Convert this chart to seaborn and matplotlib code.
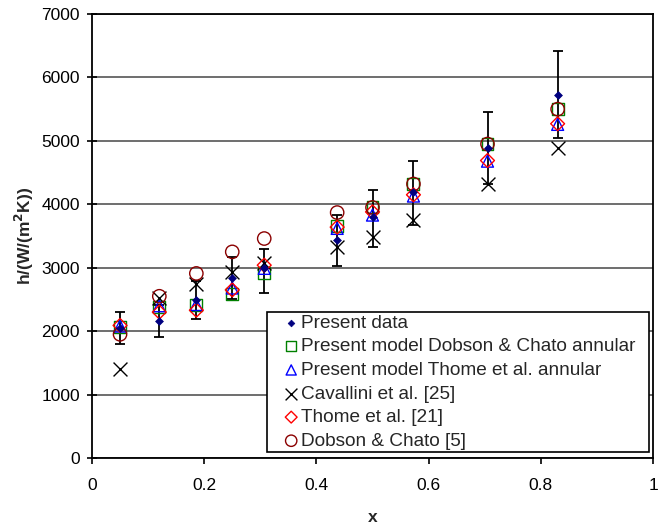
import matplotlib
matplotlib.use("Agg")
import matplotlib.pyplot as plt
import seaborn as sns
import numpy as np
import pandas as pd

# ---- data ----
x_vals = [0.05, 0.12, 0.186, 0.25, 0.307, 0.437, 0.50, 0.573, 0.705, 0.83]
present_data = [2050, 2160, 2490, 2830, 3000, 3440, 3800, 4190, 4890, 5730]
err_upper = [2295, 2420, 2790, 3170, 3290, 3830, 4220, 4690, 5460, 6420]
err_lower = [1805, 1910, 2190, 2500, 2600, 3020, 3330, 3680, 4320, 5050]
model_dobson_annular = [2070, 2380, 2410, 2590, 2920, 3660, 3960, 4320, 4950, 5500]
model_thome_annular = [2080, 2400, 2420, 2680, 2990, 3620, 3830, 4130, 4680, 5260]
cavallini = [1410, 2520, 2750, 2940, 3080, 3330, 3480, 3750, 4320, 4890]
thome = [2090, 2300, 2330, 2650, 3040, 3640, 3880, 4150, 4690, 5270]
dobson_chato = [1950, 2550, 2910, 3250, 3460, 3870, 3950, 4320, 4950, 5500]

labels = ["Present data",
          "Present model Dobson & Chato annular",
          "Present model Thome et al. annular",
          "Cavallini et al. [25]",
          "Thome et al. [21]",
          "Dobson & Chato [5]"]
x_ticks = [0, 0.2, 0.4, 0.6, 0.8, 1]
x_tick_labels = ["0", "0.2", "0.4", "0.6", "0.8", "1"]
y_ticks = [0, 1000, 2000, 3000, 4000, 5000, 6000, 7000]

sns.set_style("ticks")
plt.rcParams["font.family"] = ["Liberation Sans", "DejaVu Sans"]

fig = plt.figure(figsize=(6.64, 5.26), dpi=100)
ax = fig.add_axes([92 / 664, 1 - 458 / 526, 561 / 664, 444 / 526])

df = pd.DataFrame({"x": x_vals, "p": present_data, "lo": err_lower, "hi": err_upper})
yerr = np.array([df["p"] - df["lo"], df["hi"] - df["p"]])
ax.errorbar(df["x"], df["p"], yerr=yerr, fmt="none", ecolor="black",
            elinewidth=1.3, capsize=3.4, capthick=1.3, zorder=2)

series = [
    (model_dobson_annular, labels[1], "s", 74, "#008000", True),
    (model_thome_annular, labels[2], "^", 74, "#0000FF", True),
    (cavallini, labels[3], "x", 100, "#000000", False),
    (thome, labels[4], "D", 50, "#FF0000", True),
    (dobson_chato, labels[5], "o", 92, "#8B0000", True),
]

sns.scatterplot(x=x_vals, y=present_data, marker="D", s=16, color="#000080",
                edgecolor="#000080", linewidth=0.5, label=labels[0], ax=ax, zorder=6)
for vals, lab, mk, sz, col, openm in series:
    if openm:
        sns.scatterplot(x=x_vals, y=vals, marker=mk, s=sz, facecolors="none",
                        edgecolor=col, linewidth=1.0, label=lab, ax=ax, zorder=4)
    else:
        sns.scatterplot(x=x_vals, y=vals, marker=mk, s=sz, color=col,
                        linewidth=1.0, label=lab, ax=ax, zorder=4)

ax.set_xlim(0, 1)
ax.set_ylim(0, 7000)
ax.set_xticks(x_ticks)
ax.set_xticklabels(x_tick_labels)
ax.set_yticks(y_ticks)
ax.yaxis.grid(True, color="#555555", linewidth=1.2)
ax.set_axisbelow(True)
for sp in ax.spines.values():
    sp.set_visible(True)
    sp.set_color("black")
    sp.set_linewidth(1.3)

ax.tick_params(axis="y", direction="inout", length=7.5, width=1.2, pad=5, labelsize=12.5, colors="black")
ax.tick_params(axis="x", direction="out", length=4.5, width=1.2, pad=10, labelsize=12.5, colors="black")

ax.set_xlabel("x", fontsize=12.5, fontweight="bold", labelpad=12)
ax.set_ylabel("h/(W/(m$^\\mathbf{2}$K))", fontsize=12.5, fontweight="bold", labelpad=4)

leg = ax.legend(loc="lower left", bbox_to_anchor=(0.312, 0.0135, 0.68, 0.3),
                mode="expand", fontsize=13.7,
                frameon=True, fancybox=False, edgecolor="black", framealpha=1,
                handlelength=2.3, handletextpad=-0.65, labelspacing=0.33,
                borderpad=0.12, borderaxespad=0, markerscale=0.85)
leg.get_frame().set_linewidth(1.2)

fig.savefig("out.png", dpi=100)
